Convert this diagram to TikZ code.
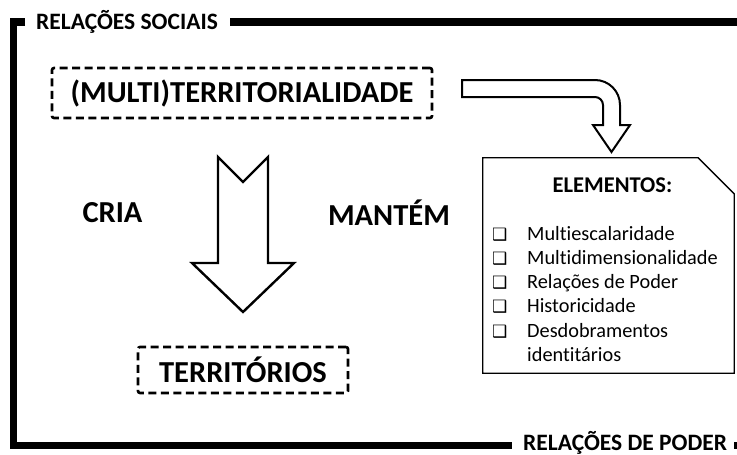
\documentclass[tikz,border=0pt]{standalone}
\usepackage{fontspec}
\setmainfont{Carlito}[RawFeature=-liga]
\newfontfamily\boxfont{DejaVu Sans}
\usetikzlibrary{calc, positioning}
\def\framewidth{7.5pt}
\def\dashwidth{2.6pt}
\def\arrowwidth{2pt}
\def\notewidth{1.3pt}
\def\itemskip{24.3}
\def\labelgap{11pt}
\tikzset{
	% labels on the frame
	framelabel/.style={
		font=\fontsize{23.5}{27}\selectfont\bfseries,
		inner sep=0pt,
		anchor=west,
	},
	% frame
	framebar/.style={
		line width=\framewidth,
		line join=miter,
	},
	% dashed boxes
	dashbox/.style={
		shape=rectangle,
		draw,
		line width=\dashwidth,
		dash pattern=on 8pt off 4.5pt,
		rounded corners=2pt,
		font=\fontsize{30.5}{36}\selectfont\bfseries,
		inner sep=0pt,
	},
	% verbs beside the arrow
	verb/.style={
		font=\fontsize{30.5}{36}\selectfont\bfseries,
		inner sep=0pt,
	},
	% block arrows
	blockarrow/.style={
		draw,
		line width=\arrowwidth,
		fill=white,
		line join=miter,
	},
	% list of elements
	itemtext/.style={
		font=\fontsize{20.3}{24}\selectfont,
		inner sep=0pt,
		anchor=base west,
	}
}

\begin{document}
\begin{tikzpicture}[x=1pt, y=-1pt]
		\useasboundingbox (0,0) rectangle (737,455);
		% Frame
		\node[
			framelabel
		] (social_label) at (36,22) {RELAÇÕES SOCIAIS};
		%
		\node[
			framelabel
		] (power_label) at (523,443) {RELAÇÕES DE PODER};
		%
		\coordinate (frame_bottom) at (13.5,445.5);
		\coordinate (power_gap) at ([xshift=-\labelgap]frame_bottom -| power_label.west);
		\coordinate (frame_right) at (737,22);
		\coordinate (frame_start) at (734,445.5);
		\coordinate (frame_end) at (737,445.5);
		\draw[
			framebar
		] ([xshift=-\labelgap]social_label.west) -| (frame_bottom) -- (power_gap);
		\draw[framebar] ([xshift=12pt]social_label.east) -- (frame_right);
		\draw[framebar] (frame_start) -- (frame_end);

		% Dashed boxes
		\node[
			dashbox,
			minimum width=380pt,
			minimum height=50pt,
		] (multi_box) at (242,93) {(MULTI)TERRITORIALIDADE};
		%
		\node[
			dashbox,
			minimum width=210pt,
			minimum height=46pt,
		] (territories_box) at (243,370) {TERRITÓRIOS};

		% Verbs
		\node[verb] (cria_label) at (112.5,212.5) {CRIA};
		\node[verb] (mantem_label) at (389,212.5) {MANTÉM};

		% Big arrow down
		\draw[
			blockarrow,
			line width=2.4pt,
			shift={(243,157)},
		] (-25,0) -- (0,25) -- (25,0) -- (25,106) -- (51,106) -- (0,155) --
		  (-51,106) -- (-25,106) -- cycle;

		% Bent arrow to the elements
		\draw[
			blockarrow
		] (462,80) -- (595,80) .. controls (608.8,80) and (620,91.2) .. (620,105) --
		  (620,125) -- (630,125) -- (611.5,152) -- (593,125) -- (603,125) --
		  (603,105) .. controls (603,100.6) and (599.4,97) .. (595,97) --
		  (462,97) -- cycle;

		% Elements note
		\node[
			minimum width=251pt,
			minimum height=215pt,
			inner sep=0pt,
		] (elements_box) at (608.5,265.5) {};
		\draw[
			line width=\notewidth
		] (elements_box.south west) -- (elements_box.north west) --
		  ([xshift=-36pt]elements_box.north east) --
		  ([yshift=-36pt]elements_box.north east) -- (elements_box.south east) -- cycle;
		%
		\node[
			font=\fontsize{22.5}{26}\selectfont\bfseries,
			inner sep=0pt,
		] (elements_title) at (612.5,185) {ELEMENTOS:};
		%
		\foreach \i/\txt in {1/Multiescalaridade, 2/Multidimensionalidade,
			3/Relações de Poder, 4/Historicidade, 5/Desdobramentos} {
			\pgfmathsetmacro{\ybase}{240 + (\i-1) * \itemskip}
			\node[
				itemtext
			] (item\i) at (492,\ybase)
			  {\makebox[35pt][l]{\boxfont\fontsize{17}{17}\selectfont ❑}\txt};
		}
		\node[
			itemtext,
		] (item5_more) at ([xshift=35pt, yshift=-\itemskip pt]item5.base west) {identitários};
	\end{tikzpicture}
\end{document}
